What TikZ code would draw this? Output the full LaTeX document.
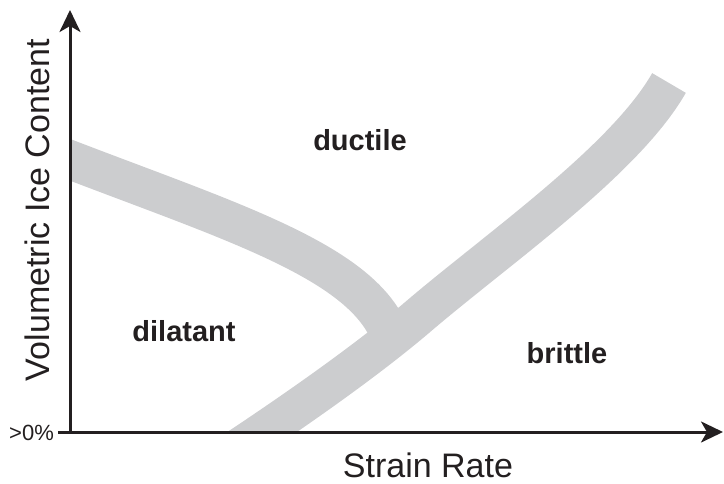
\documentclass[tikz,border=0pt]{standalone}
\usepackage{fontspec}
\setmainfont{Liberation Sans}
\usetikzlibrary{arrows.meta}

\definecolor{bandgray}{RGB}{204,205,207}
\definecolor{inkdark}{RGB}{35,31,32}

\tikzset{
  band/.style={bandgray, line width=19.5pt},
  axis/.style={inkdark, line width=1.5pt, -{Stealth[length=11pt,width=10.5pt,inset=3pt]}},
  region/.style={inkdark, font=\fontsize{14.5}{17}\selectfont\bfseries},
  axislabel/.style={inkdark, font=\fontsize{17}{21}\selectfont},
}

\begin{document}
\begin{tikzpicture}[x=0.5pt, y=-0.5pt]

\useasboundingbox (0,0) rectangle (724,483);

% Axis points
\coordinate (O) at (70,432);
\coordinate (xstart) at (58,432);
\coordinate (xtip) at (723,432);
\coordinate (ytip) at (70,10);

% Regime boundaries, clipped to the quadrant
\begin{scope}
\clip (70,0) rectangle (724,432);
% dilatant / ductile boundary
\draw [band] (55,154) .. controls (220,218) and (355,258) .. (388,330);
% brittle boundary
\draw [band] (240,447) .. controls (300,407) and (370,358) .. (420,315)
                       .. controls (500,247) and (625,160) .. (669,83);
\end{scope}

% Axis
\draw [axis] (O) -- (ytip);
\draw [axis] (xstart) -- (xtip);

% Labels
\node [region] (ductile) at (360,140) {ductile};
\node [region] (dilatant) at (184,331) {dilatant};
\node [region] (brittle) at (567,353) {brittle};

\node [axislabel, rotate=90] (ylab) at (37.5,210) {Volumetric Ice Content};
\node [axislabel] (xlab) at (428,465) {Strain Rate};
\node [inkdark, font=\fontsize{11}{13}\selectfont] (zero) at (31.5,433) {>0\%};
\end{tikzpicture}
\end{document}
